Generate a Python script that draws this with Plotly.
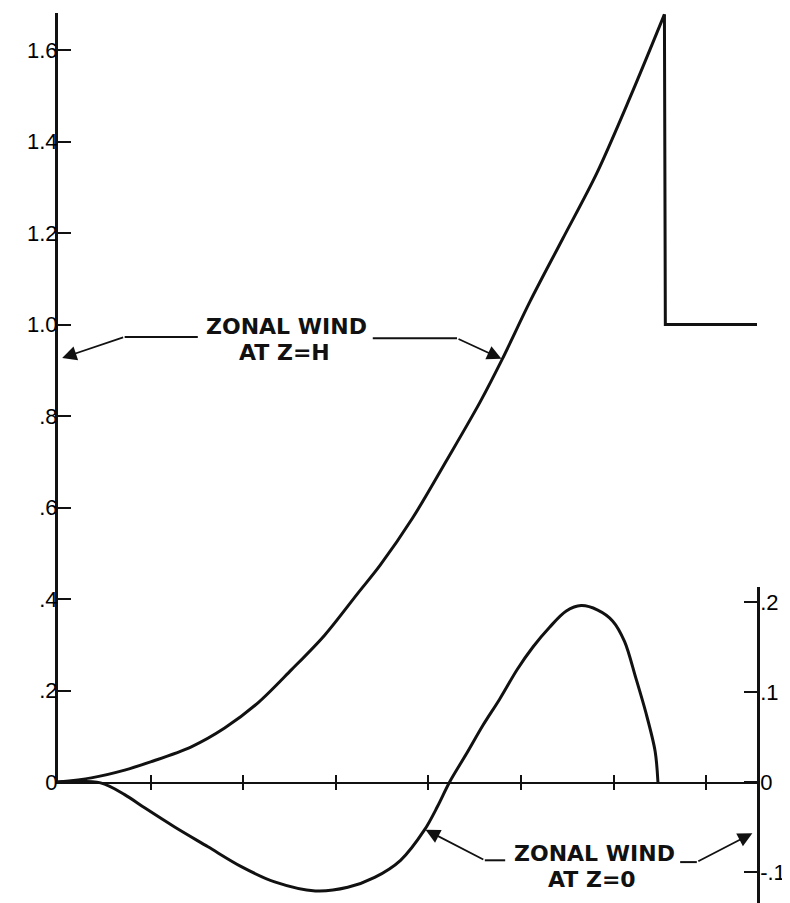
import plotly.graph_objects as go

# ---- data (x in tick units, no labels on x axis) ----
x_tick_vals = [1, 2, 3, 4, 5, 6, 7]

# Zonal wind at Z=H (left axis)
upper_x = [0.0, 0.36, 0.72, 1.00, 1.44, 1.80, 2.16, 2.52, 2.88, 3.24, 3.48, 3.83, 4.20, 4.56, 4.80, 5.10, 5.45, 5.82, 6.18, 6.55]
upper_y = [0.0, 0.009, 0.026, 0.044, 0.077, 0.118, 0.173, 0.245, 0.321, 0.413, 0.474, 0.577, 0.704, 0.831, 0.925, 1.051, 1.187, 1.331, 1.497, 1.678]
# step after the peak
step_x = [6.55, 6.56, 7.55]
step_y = [1.678, 1.0, 1.0]

# Zonal wind at Z=0 (right axis)
lower_x = [0.0, 0.46, 0.72, 0.94, 1.26, 1.62, 1.98, 2.34, 2.78, 3.13, 3.42, 3.70, 3.96, 4.10, 4.23,
           4.41, 4.59, 4.77, 4.96, 5.13, 5.31, 5.49, 5.65, 5.83, 5.99, 6.12, 6.24, 6.35, 6.45, 6.48]
lower_y = [0.0, -0.001, -0.014, -0.029, -0.050, -0.072, -0.094, -0.111, -0.121, -0.117, -0.106, -0.087, -0.053, -0.027, 0.0,
           0.031, 0.063, 0.092, 0.125, 0.150, 0.172, 0.190, 0.196, 0.191, 0.179, 0.156, 0.116, 0.077, 0.034, 0.0]

left_ticks = [0, 0.2, 0.4, 0.6, 0.8, 1.0, 1.2, 1.4, 1.6]
left_text = ["0", ".2", ".4", ".6", ".8", "1.0", "1.2", "1.4", "1.6"]
right_ticks = [-0.1, 0, 0.1, 0.2]
right_text = ["-.1", "0", ".1", ".2"]

INK = "#111111"

fig = go.Figure()
fig.add_trace(go.Scatter(x=upper_x, y=upper_y, mode="lines", line=dict(color=INK, width=3, shape="spline", smoothing=0.9),
                         xaxis="x", yaxis="y", showlegend=False, hoverinfo="skip"))
fig.add_trace(go.Scatter(x=step_x, y=step_y, mode="lines", line=dict(color=INK, width=3),
                         xaxis="x", yaxis="y", showlegend=False, hoverinfo="skip"))
fig.add_trace(go.Scatter(x=lower_x, y=lower_y, mode="lines", line=dict(color=INK, width=3, shape="spline", smoothing=0.9),
                         xaxis="x", yaxis="y2", showlegend=False, hoverinfo="skip"))
# empty trace so the second (outside-tick) x axis is drawn
fig.add_trace(go.Scatter(x=[], y=[], xaxis="x2", yaxis="y", showlegend=False, hoverinfo="skip"))

tickfont = dict(family="Liberation Sans", size=22, color="black")

fig.update_layout(
    width=782, height=895,
    margin=dict(l=50, r=33, t=5, b=0, autoexpand=False),
    paper_bgcolor="white", plot_bgcolor="rgba(0,0,0,0)",
    xaxis=dict(domain=[0, 1], range=[0, 7.55], anchor="y", showline=True, linecolor=INK, linewidth=2,
               ticks="inside", ticklen=7, tickwidth=2, tickcolor=INK, tickvals=x_tick_vals,
               showticklabels=False, showgrid=False, zeroline=False),
    xaxis2=dict(overlaying="x", matches="x", range=[0, 7.55], anchor="y", showline=False,
                ticks="outside", ticklen=7, tickwidth=2, tickcolor=INK, tickvals=x_tick_vals,
                showticklabels=False, showgrid=False, zeroline=False),
    yaxis=dict(domain=[121 / 890, 1], range=[0, 1.681], anchor="x", showline=True, linecolor=INK, linewidth=3,
               ticks="inside", ticklen=13, tickwidth=2, tickcolor=INK, tickvals=left_ticks, ticktext=left_text,
               tickfont=tickfont, ticklabelstandoff=-7, showgrid=False, zeroline=False, automargin=False),
    yaxis2=dict(domain=[0, 316 / 890], range=[-121 / 900, 195 / 900], anchor="x", side="right", showline=True,
                linecolor=INK, linewidth=2.5, ticks="inside", ticklen=13, tickwidth=2, tickcolor=INK,
                tickvals=right_ticks, ticktext=right_text, tickfont=tickfont, ticklabelstandoff=-4,
                showgrid=False, zeroline=False, automargin=False),
)

labfont = dict(family="DejaVu Sans", size=22, color=INK, weight="bold")

# text labels
for txt, x, y, yref in [("ZONAL WIND", 2.47, 0.995, "y"), ("AT Z=H", 2.45, 0.938, "y"),
                        ("ZONAL WIND", 5.79, -0.079, "y2"), ("AT Z=0", 5.77, -0.108, "y2")]:
    fig.add_annotation(text=txt, x=x, y=y, xref="x", yref=yref, showarrow=False, font=labfont,
                       xanchor="center", yanchor="middle")

# leader lines (horizontal parts)
for x0, x1, y, yref in [(0.72, 1.51, 0.973, "y"), (3.40, 4.31, 0.970, "y"),
                        (4.61, 4.83, -0.087, "y2"), (6.72, 6.90, -0.089, "y2")]:
    fig.add_shape(type="line", x0=x0, x1=x1, y0=y, y1=y, xref="x", yref=yref, line=dict(color=INK, width=2))

# diagonal parts with arrowheads
for tx, ty, hx, hy, yref in [(0.72, 0.973, 0.045, 0.927, "y"), (4.31, 0.970, 4.79, 0.925, "y"),
                             (4.61, -0.087, 3.97, -0.053, "y2"), (6.90, -0.089, 7.50, -0.057, "y2")]:
    fig.add_annotation(x=hx, y=hy, ax=tx, ay=ty, xref="x", yref=yref, axref="x", ayref=yref, text="",
                       showarrow=True, arrowhead=2, arrowsize=1.6, arrowwidth=1.8, arrowcolor=INK, standoff=0)

fig.write_html("out.html")
